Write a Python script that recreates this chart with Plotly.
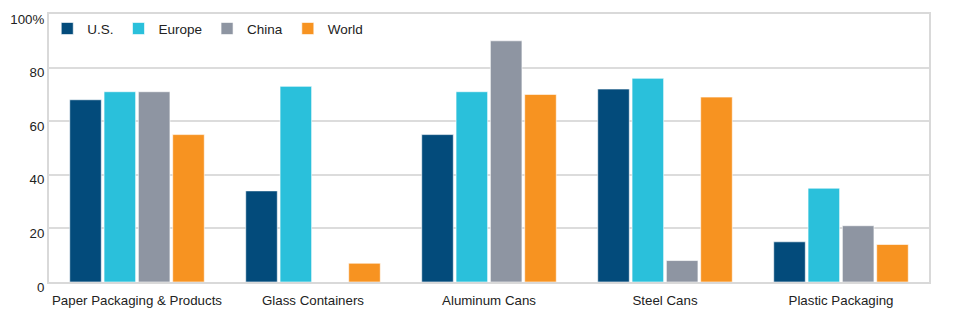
import plotly.graph_objects as go

categories = ["Paper Packaging & Products", "Glass Containers", "Aluminum Cans", "Steel Cans", "Plastic Packaging"]
us = [68, 34, 55, 72, 15]
europe = [71, 73, 71, 76, 35]
china = [71, None, 90, 8, 21]
world = [55, 7, 70, 69, 14]
tick_vals = [0, 20, 40, 60, 80, 100]
tick_text = ["0", "20", "40", "60", "80", "100%"]

series = [
    ("U.S.", us, "#034B7B"),
    ("Europe", europe, "#2AC0DB"),
    ("China", china, "#8E95A2"),
    ("World", world, "#F79321"),
]

fig = go.Figure()
for name, vals, color in series:
    fig.add_trace(go.Bar(
        x=categories, y=vals, name=name,
        marker=dict(color=color, line=dict(color="rgba(255,255,255,0.6)", width=1)),
    ))

font_family = "Liberation Sans, Arial, sans-serif"
fig.update_layout(
    width=960, height=328,
    margin=dict(l=49, r=31, t=14, b=46, autoexpand=False),
    paper_bgcolor="white", plot_bgcolor="white",
    barmode="group", bargap=0.22, bargroupgap=0.08,
    font=dict(family=font_family, size=13, color="#222222"),
    showlegend=True,
    legend=dict(
        orientation="h", x=-0.002, xanchor="left", y=0.945, yanchor="middle",
        bgcolor="rgba(0,0,0,0)", font=dict(size=13.5, color="#222222"),
        itemwidth=30, traceorder="normal",
    ),
    xaxis=dict(
        showline=True, linecolor="#d9d9d9", linewidth=2, mirror=True,
        showgrid=False, ticks="", tickfont=dict(size=13.3, color="#222222"),
        ticklabelstandoff=5, automargin=False,
    ),
    yaxis=dict(
        range=[0, 100], tickvals=tick_vals, ticktext=tick_text,
        showgrid=True, gridcolor="#dcdcdc", gridwidth=2,
        showline=True, linecolor="#d9d9d9", linewidth=2, mirror=True,
        zeroline=False, ticks="", ticklen=0, ticklabelshift=5,
        tickfont=dict(size=13.3, color="#222222"), automargin=False,
    ),
)

fig.write_html("out.html")
